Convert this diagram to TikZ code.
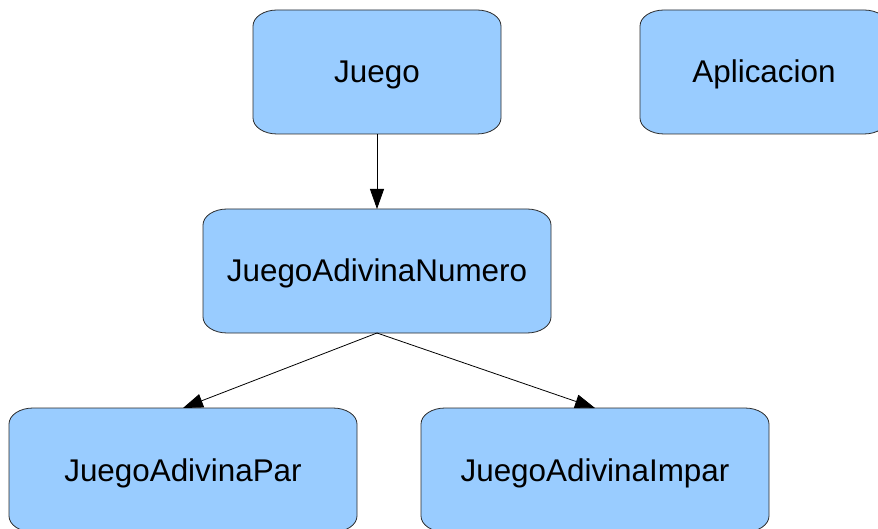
\documentclass[tikz,border=0pt]{standalone}
\usepackage{fontspec}
\setmainfont{Liberation Sans}
\usetikzlibrary{arrows.meta}
\pgfdeclarelayer{bg}
\pgfsetlayers{bg,main}
\definecolor{boxfill}{HTML}{99CCFF}
\definecolor{boxline}{HTML}{2A2A2A}
\tikzset{
  cls/.style={rectangle, minimum height=124pt, inner sep=0pt, outer sep=0pt,
    text height=22pt, text depth=0pt, font=\fontsize{31.4}{36}\selectfont},
  widebox/.style={cls, minimum width=348pt},
  narrowbox/.style={cls, minimum width=248pt},
  inh/.style={-{Triangle[length=20pt,width=14pt]}, line width=0.8pt, draw=black},
  outline/.style={fill=boxfill, draw=boxline, line width=0.8pt}
}
\newcommand\ellbox[1]{%
  \path[outline] ([xshift=24pt]#1.north west) -- ([xshift=-24pt]#1.north east)
    arc[start angle=90,end angle=0,x radius=24pt,y radius=16pt]
    -- ([yshift=16pt]#1.south east)
    arc[start angle=0,end angle=-90,x radius=24pt,y radius=16pt]
    -- ([xshift=24pt]#1.south west)
    arc[start angle=270,end angle=180,x radius=24pt,y radius=16pt]
    -- ([yshift=-16pt]#1.north west)
    arc[start angle=180,end angle=90,x radius=24pt,y radius=16pt]
    -- cycle;}
\begin{document}
\begin{tikzpicture}[x=1pt,y=1pt]
  \useasboundingbox (0,0) rectangle (878,-529);
  \clip (0,0) rectangle (878,-529);
  \node[narrowbox] (juego) at (377,-72) {Juego};
  \node[narrowbox] (app) at (764,-72) {Aplicacion};
  \node[widebox] (jan) at (377,-271) {JuegoAdivinaNumero};
  \node[widebox] (par) at (183,-470) {JuegoAdivinaPar};
  \node[widebox] (impar) at (595,-470) {JuegoAdivinaImpar};
  \begin{pgfonlayer}{bg}
    \ellbox{juego}
    \ellbox{app}
    \ellbox{jan}
    \ellbox{par}
    \ellbox{impar}
  \end{pgfonlayer}
  \draw[inh] (juego.south) -- (jan.north);
  \draw[inh] (jan.south) -- (par.north);
  \draw[inh] (jan.south) -- (impar.north);
\end{tikzpicture}
\end{document}
